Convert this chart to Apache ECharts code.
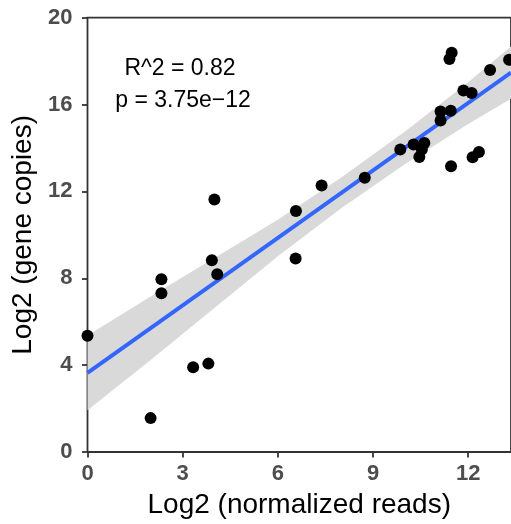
<!DOCTYPE html>
<html>
<head>
<meta charset="utf-8">
<script src="https://cdn.jsdelivr.net/npm/echarts@6/dist/echarts.min.js"></script>
<style>
  html, body { margin: 0; padding: 0; background: #fff; }
  #chart { width: 511px; height: 524px; }
</style>
</head>
<body>
<div id="chart"></div>
<script>
// points: [log2 normalized reads, log2 gene copies]
var points = [
  [0.0, 5.35], [1.99, 1.56], [2.33, 7.96], [2.33, 7.31], [3.33, 3.9],
  [3.81, 4.07], [3.92, 8.83], [4.0, 11.63], [4.09, 8.19], [6.57, 11.1],
  [6.56, 8.91], [7.38, 12.27], [8.74, 12.63], [9.86, 13.93], [10.28, 14.16],
  [10.46, 13.59], [10.54, 13.93], [10.62, 14.23], [11.13, 15.68], [11.13, 15.27],
  [11.45, 15.72], [11.46, 13.16], [11.41, 18.1], [11.48, 18.39], [11.85, 16.65],
  [12.11, 16.53], [12.14, 13.57], [12.34, 13.82], [12.69, 17.59], [13.29, 18.06]
];

// fitted line ends and the grey confidence band
var fitX = [0, 13.35];
var fitY = [3.64, 17.47];
var bandX = [0, 2, 4, 6, 8, 10, 12, 13.35];
var bandLow = [1.92, 4.25, 6.63, 9.02, 11.22, 13.25, 15.11, 16.27];
var bandHigh = [5.36, 7.17, 8.93, 10.70, 12.64, 14.75, 17.03, 18.67];

var xTicks = [0, 3, 6, 9, 12];
var yTicks = [0, 4, 8, 12, 16, 20];

var statLines = ["R^2 = 0.82", "p = 3.75e\u221212"];

var font = "'Liberation Sans', Arial, sans-serif";
var chart = echarts.init(document.getElementById("chart"));

chart.setOption({
  animation: false,
  grid: {
    left: 87.5,
    top: 17.7,
    bottom: 70.7,
    right: -2,
    show: true,
    borderColor: "#333333",
    borderWidth: 1.8,
    backgroundColor: "#fff"
  },
  xAxis: {
    type: "value",
    min: 0,
    max: 13.35,
    interval: 3,
    splitLine: { show: false },
    axisLine: { show: false },
    axisTick: { show: true, length: 5.5, lineStyle: { color: "#333333", width: 1.8 } },
    axisLabel: {
      margin: 11,
      fontFamily: font,
      fontSize: 22,
      fontWeight: "bold",
      color: "#4d4d4d",
      showMaxLabel: false,
      formatter: function (v) { return xTicks.indexOf(v) >= 0 ? String(v) : ""; }
    },
    name: "Log2 (normalized reads)",
    nameLocation: "middle",
    nameGap: 39,
    nameTextStyle: { fontFamily: font, fontSize: 28, color: "#000" }
  },
  yAxis: {
    type: "value",
    min: 0,
    max: 20,
    interval: 4,
    splitLine: { show: false },
    axisLine: { show: false },
    axisTick: { show: true, length: 5.5, lineStyle: { color: "#333333", width: 1.8 } },
    axisLabel: {
      margin: 15,
      fontFamily: font,
      fontSize: 22,
      fontWeight: "bold",
      color: "#4d4d4d",
      formatter: function (v) { return yTicks.indexOf(v) >= 0 ? String(v) : ""; }
    },
    name: "Log2 (gene copies)",
    nameLocation: "middle",
    nameGap: 46,
    nameTextStyle: { fontFamily: font, fontSize: 28, color: "#000" }
  },
  graphic: [
    {
      type: "text",
      position: [180, 69],
      style: { text: statLines[0], x: 0, y: 0, fontFamily: font, fontSize: 23, fill: "#000", align: "center", verticalAlign: "middle" }
    },
    {
      type: "text",
      position: [183, 101],
      style: { text: statLines[1], x: 0, y: 0, fontFamily: font, fontSize: 23, fill: "#000", align: "center", verticalAlign: "middle" }
    }
  ],
  series: [
    {
      type: "custom",
      silent: true,
      z: 1,
      data: [0],
      renderItem: function (params, api) {
        var pts = [];
        for (var i = 0; i < bandX.length; i++) pts.push(api.coord([bandX[i], bandHigh[i]]));
        for (var j = bandX.length - 1; j >= 0; j--) pts.push(api.coord([bandX[j], bandLow[j]]));
        return { type: "polygon", shape: { points: pts }, style: { fill: "#d9d9d9" } };
      }
    },
    {
      type: "line",
      z: 2,
      symbol: "none",
      data: fitX.map(function (x, i) { return [x, fitY[i]]; }),
      lineStyle: { color: "#3366ff", width: 4 }
    },
    {
      type: "scatter",
      z: 3,
      symbolSize: 12,
      itemStyle: { color: "#000", opacity: 1 },
      data: points
    }
  ]
});
</script>
</body>
</html>
